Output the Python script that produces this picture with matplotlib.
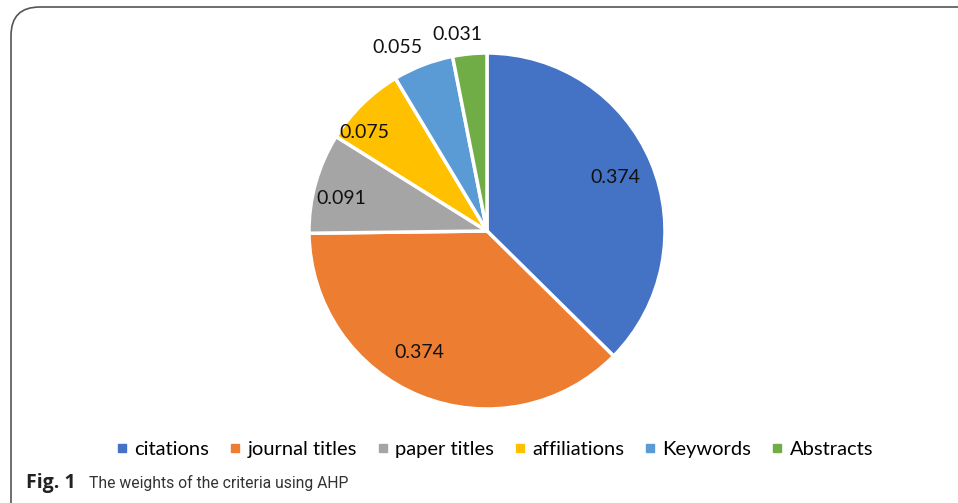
import matplotlib.pyplot as plt
import numpy as np
from matplotlib.patches import FancyBboxPatch
from matplotlib.lines import Line2D

# datos del gráfico
categorias = ['citations', 'journal titles', 'paper titles', 'affiliations', 'Keywords', 'Abstracts']
pesos = [0.374, 0.374, 0.091, 0.075, 0.055, 0.031]
etiquetas = ['0.374', '0.374', '0.091', '0.075', '0.055', '0.031']
colores = ['#4472C4', '#ED7D31', '#A5A5A5', '#FFC000', '#5B9BD5', '#70AD47']
# colocación de las etiquetas (fracción del radio, desplazamiento angular en grados)
dist_etiqueta = [0.78, 0.78, 0.84, 0.88, 1.15, 1.115]
giro_etiqueta = [0, -7, 3.3, 6.8, 5, 3]

W, H = 958, 503
fig = plt.figure(figsize=(W / 100, H / 100), dpi=100)

# marco redondeado
marco = FancyBboxPatch((11 / W, -30 / H), 1.2, (H - 7 + 30) / H,
                       boxstyle='round,pad=0,rounding_size=0.03',
                       transform=fig.transFigure, facecolor='none',
                       edgecolor='#555555', linewidth=1.2, mutation_aspect=W / H,
                       zorder=-1)
fig.patches.append(marco)

cx, cy, r = 487, 231, 178
ax = fig.add_axes([(cx - r) / W, (H - cy - r) / H, 2 * r / W, 2 * r / H])
wedges, _ = ax.pie(pesos, colors=colores, startangle=90, counterclock=False,
                   radius=1, wedgeprops=dict(edgecolor='white', linewidth=2.5))
ax.set_xlim(-1, 1)
ax.set_ylim(-1, 1)
ax.axis('off')

for w, txt, d, g in zip(wedges, etiquetas, dist_etiqueta, giro_etiqueta):
    ang = np.deg2rad((w.theta1 + w.theta2) / 2 + g)
    ax.text(d * np.cos(ang), d * np.sin(ang), txt, ha='center', va='center',
            fontsize=14, family='Lato', color='#111111')

handles = [Line2D([], [], marker='s', linestyle='', color=c, markersize=6) for c in colores]
fig.legend(handles, categorias, loc='center', bbox_to_anchor=(493 / W, 1 - 449 / H),
           ncol=6, frameon=False, prop={'family': 'Lato', 'size': 14.5},
           handletextpad=0.15, columnspacing=0.85, handlelength=0.9)

fig.text(26 / W, 1 - 483 / H, 'Fig. 1', fontsize=14, fontweight='bold',
         family='Open Sans', color='#222222', va='center')
fig.text(89 / W, 1 - 483 / H, 'The weights of the criteria using AHP', fontsize=11.3,
         family='Roboto', color='#333333', va='center')

fig.savefig('out.png', dpi=100)
